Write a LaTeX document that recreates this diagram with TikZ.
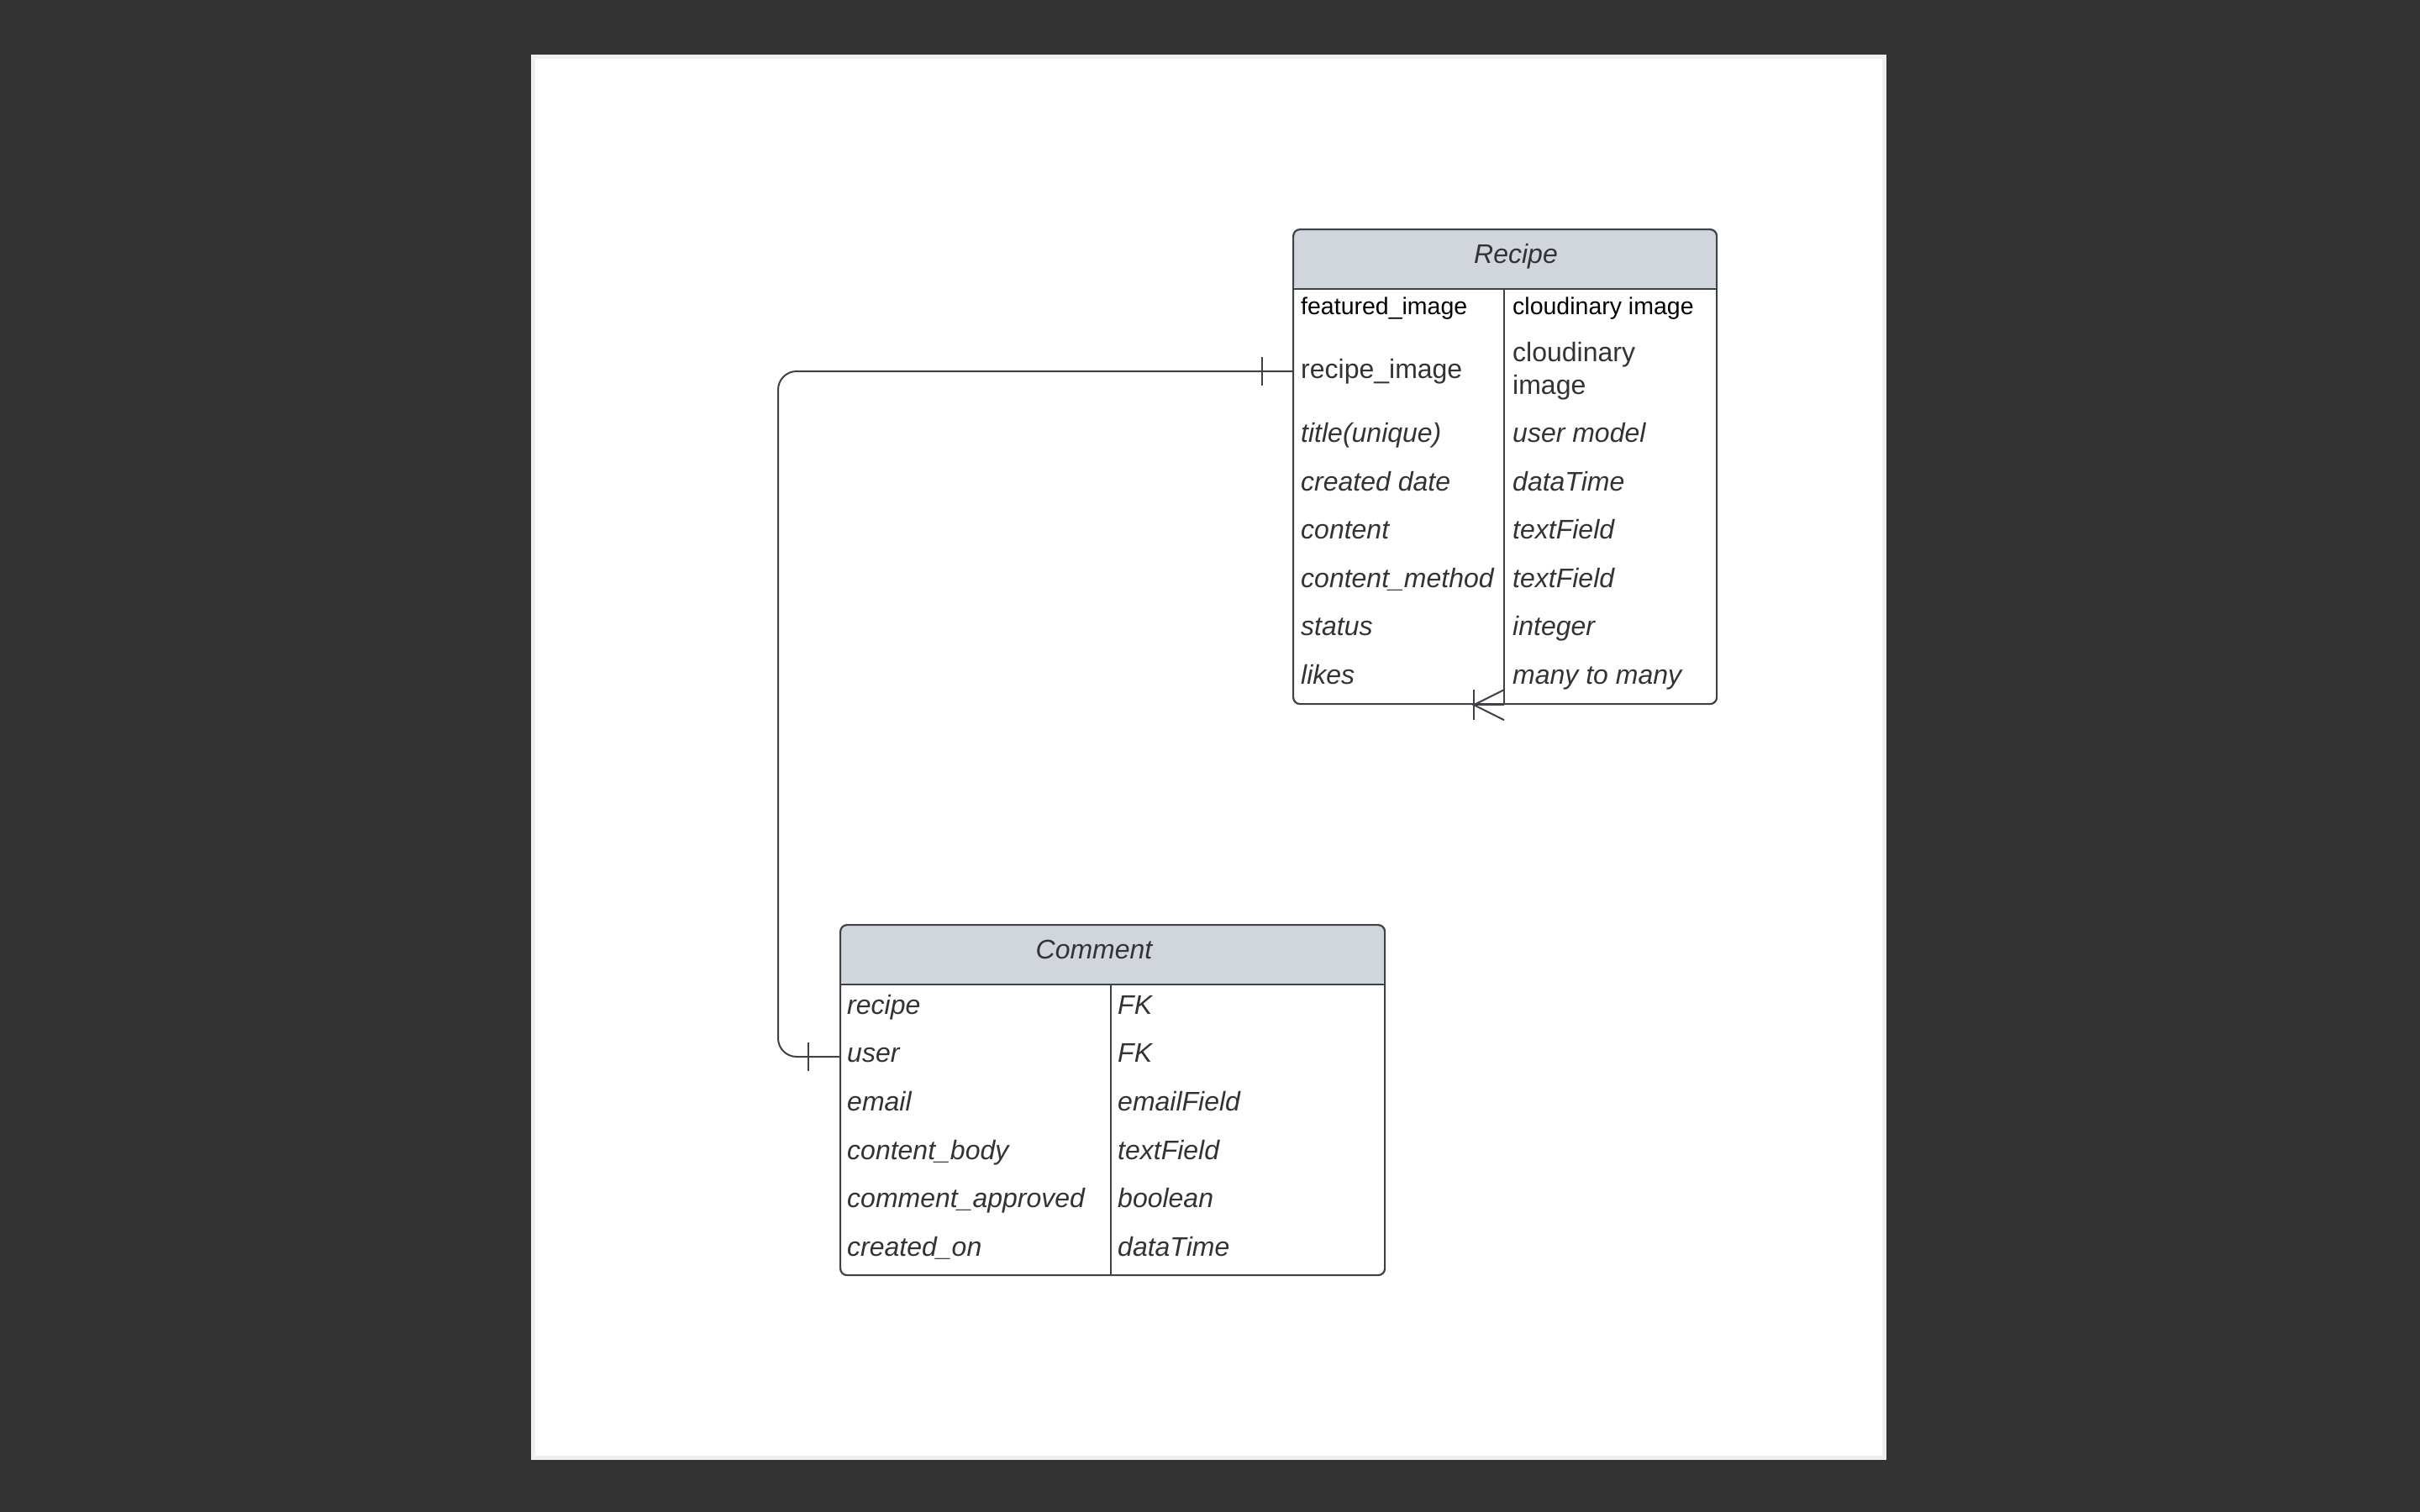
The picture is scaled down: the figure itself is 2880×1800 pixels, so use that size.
\documentclass[tikz,border=0pt]{standalone}
\usepackage{fontspec}
\setmainfont{Liberation Sans}
\usetikzlibrary{positioning}
\definecolor{darkbg}{HTML}{333333}
\definecolor{headgray}{HTML}{D1D5DC}
\definecolor{linegray}{HTML}{3D4148}
\definecolor{textgray}{HTML}{333333}

\begin{document}
\begin{tikzpicture}[
    x=1bp, y=-1bp,
    tablebox/.style={draw=linegray, line width=2.2bp, rounded corners=8bp, anchor=north west, inner sep=0pt,
        path picture={\fill[headgray] (path picture bounding box.north west) rectangle ([yshift=-72bp]path picture bounding box.north east);}},
    rule/.style={draw=linegray, line width=2.2bp},
    headtext/.style={font=\fontsize{32bp}{38bp}\selectfont\itshape, text=textgray, anchor=base, inner sep=0pt},
    cell/.style={font=\fontsize{32bp}{39bp}\selectfont\itshape, text=textgray, anchor=base west, inner sep=0pt},
    plaincell/.style={cell, font=\fontsize{32bp}{39bp}\selectfont\upshape},
    smallcell/.style={cell, font=\fontsize{28.5bp}{34bp}\selectfont\upshape, text=black},
    conn/.style={draw=linegray, line width=2bp}
]
\useasboundingbox (0,0) rectangle (2880,1800);
\fill[darkbg] (0,0) rectangle (2880,1800);
\filldraw[fill=white, draw=gray!12, line width=5bp] (634,67) rectangle (2242,1735);

% Recipe table
\node[tablebox, minimum width=504bp, minimum height=565bp] (recipe) at (1538,272) {};
\draw[rule] ([yshift=-72bp]recipe.north west) -- ([yshift=-72bp]recipe.north east);
\coordinate (rdivtop) at (1790,344);
\draw[rule] (rdivtop) -- (rdivtop |- recipe.south);
\node[headtext] (recipehead) at (1804,313) {Recipe};

\node[smallcell] (rfeatk) at (1548,374) {featured\_image};
\node[smallcell] (rfeatv) at (1800,374) {cloudinary image};
\node[plaincell] (rimgk) at (1548,450) {recipe\_image};
\node[plaincell, anchor=west, align=left] (rimgv) at (1800,442) {cloudinary\\image};
\node[cell] (rtitlek) at (1548,526.5) {title(unique)};
\node[cell] (rtitlev) at (1800,526.5) {user model};
\node[cell] (rdatek) at (1548,584) {created date};
\node[cell] (rdatev) at (1800,584) {dataTime};
\node[cell] (rcontk) at (1548,641.5) {content};
\node[cell] (rcontv) at (1800,641.5) {textField};
\node[cell] (rmethk) at (1548,699) {content\_method};
\node[cell] (rmethv) at (1800,699) {textField};
\node[cell] (rstatk) at (1548,756.5) {status};
\node[cell] (rstatv) at (1800,756.5) {integer};
\node[cell] (rlikek) at (1548,814) {likes};
\node[cell] (rlikev) at (1800,814) {many to many};

% Comment table
\node[tablebox, minimum width=648bp, minimum height=417bp] (comment) at (999,1100) {};
\draw[rule] ([yshift=-72bp]comment.north west) -- ([yshift=-72bp]comment.north east);
\coordinate (cdivtop) at (1322,1172);
\draw[rule] (cdivtop) -- (cdivtop |- comment.south);
\node[headtext] (commenthead) at (1302,1141) {Comment};

\node[cell] (crecipek) at (1008,1207) {recipe};
\node[cell] (crecipev) at (1330,1207) {FK};
\node[cell] (cuserk) at (1008,1264.5) {user};
\node[cell] (cuserv) at (1330,1264.5) {FK};
\node[cell] (cemailk) at (1008,1322) {email};
\node[cell] (cemailv) at (1330,1322) {emailField};
\node[cell] (cbodyk) at (1008,1380) {content\_body};
\node[cell] (cbodyv) at (1330,1380) {textField};
\node[cell] (capprk) at (1008,1437.5) {comment\_approved};
\node[cell] (capprv) at (1330,1437.5) {boolean};
\node[cell] (cdatek) at (1008,1495) {created\_on};
\node[cell] (cdatev) at (1330,1495) {dataTime};

% relationship recipe -- comment
\coordinate (rimglink) at (recipe.west |- rimgv.west);
\coordinate (userlink) at (comment.west |- 0,1258);
\draw[conn, rounded corners=22bp] (rimglink) -- ++(-612,0) |- (userlink);
\draw[conn] (rimglink) ++(-36,-17) -- ++(0,34);
\draw[conn] (userlink) ++(-37,-17) -- ++(0,34);

% likes crow's foot
\coordinate (likeslink) at (rdivtop |- recipe.south);
\draw[conn] (likeslink) -- ++(-36,0);
\draw[conn] (likeslink) ++(0,-18) -- ++(-36,18) -- ++(36,18);
\draw[conn] (likeslink) ++(-36,-18) -- ++(0,36);

\end{tikzpicture}
\end{document}
